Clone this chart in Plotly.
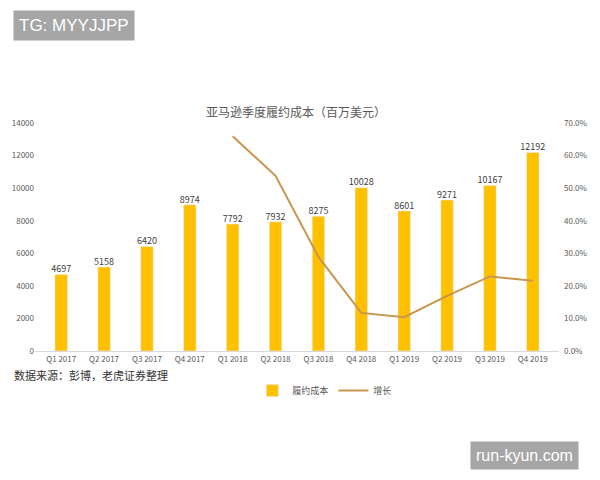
import plotly.graph_objects as go

quarters = ["Q1 2017", "Q2 2017", "Q3 2017", "Q4 2017", "Q1 2018", "Q2 2018",
            "Q3 2018", "Q4 2018", "Q1 2019", "Q2 2019", "Q3 2019", "Q4 2019"]
cost = [4697, 5158, 6420, 8974, 7792, 7932, 8275, 10028, 8601, 9271, 10167, 12192]
growth = [None, None, None, None, 0.659, 0.538, 0.289, 0.117, 0.104, 0.169, 0.229, 0.216]
left_ticks = [0, 2000, 4000, 6000, 8000, 10000, 12000, 14000]
right_ticks = [0, 0.1, 0.2, 0.3, 0.4, 0.5, 0.6, 0.7]

FONT = "Noto Sans CJK SC, Noto Sans, sans-serif"
BAR = "#FFC000"
LINE = "#C9964E"

W_PLOT = 537
H_PLOT = 228

def px_x(px):
    return (px - 33) / W_PLOT

def px_y(py):
    return (351 - py) / H_PLOT

fig = go.Figure()
fig.add_trace(go.Bar(
    x=quarters, y=cost, name="履约成本", marker_color=BAR, width=0.29,
))
fig.add_trace(go.Scatter(
    x=quarters, y=cost, mode="text", text=[str(v) for v in cost],
    textposition="top center", textfont=dict(size=9, color="#404040", family=FONT),
    showlegend=False, hoverinfo="skip", cliponaxis=False,
))
fig.add_trace(go.Scatter(
    x=quarters, y=growth, name="增长", yaxis="y2", mode="lines",
    line=dict(color=LINE, width=2), connectgaps=False,
))

fig.update_layout(
    width=600, height=480,
    margin=dict(l=33, r=30, t=123, b=129),
    paper_bgcolor="white", plot_bgcolor="white",
    font=dict(family=FONT, color="#595959", size=8),
    showlegend=True,
    legend=dict(orientation="h", x=px_x(330), xanchor="center", y=-0.11, yanchor="top",
                font=dict(size=9, color="#595959")),
    xaxis=dict(showline=True, linecolor="#D9D9D9", linewidth=1, ticks="",
               tickfont=dict(size=8, color="#595959"), showgrid=False),
    yaxis=dict(range=[0, 14000], tickvals=left_ticks, ticktext=[str(v) for v in left_ticks],
               showgrid=False, zeroline=False,
               tickfont=dict(size=8, color="#595959"), ticks=""),
    yaxis2=dict(range=[0, 0.7], tickvals=right_ticks, tickformat=".1%", overlaying="y",
                side="right", showgrid=False, zeroline=False, ticklabelstandoff=4,
                tickfont=dict(size=8, color="#595959")),
    annotations=[
        dict(text="亚马逊季度履约成本（百万美元）", x=px_x(300), y=px_y(101),
             xref="paper", yref="paper",
             showarrow=False, font=dict(size=12, color="#595959")),
        dict(text="数据来源：彭博，老虎证券整理", x=px_x(9), y=px_y(375),
             xref="paper", yref="paper", xanchor="left", yanchor="middle",
             showarrow=False, font=dict(size=11, color="#333333")),
        dict(text="TG: MYYJJPP", x=px_x(10), y=px_y(25), xref="paper", yref="paper",
             xanchor="left", yanchor="middle", showarrow=False, bgcolor="#A6A6A6",
             borderpad=5, font=dict(size=17, color="white", family="Liberation Sans, Arial")),
        dict(text="run-kyun.com", x=px_x(590), y=px_y(455), xref="paper", yref="paper",
             xanchor="right", yanchor="middle", showarrow=False, bgcolor="#A6A6A6",
             borderpad=5, font=dict(size=16, color="white", family="Liberation Sans, Arial")),
    ],
)

fig.write_html("out.html")
